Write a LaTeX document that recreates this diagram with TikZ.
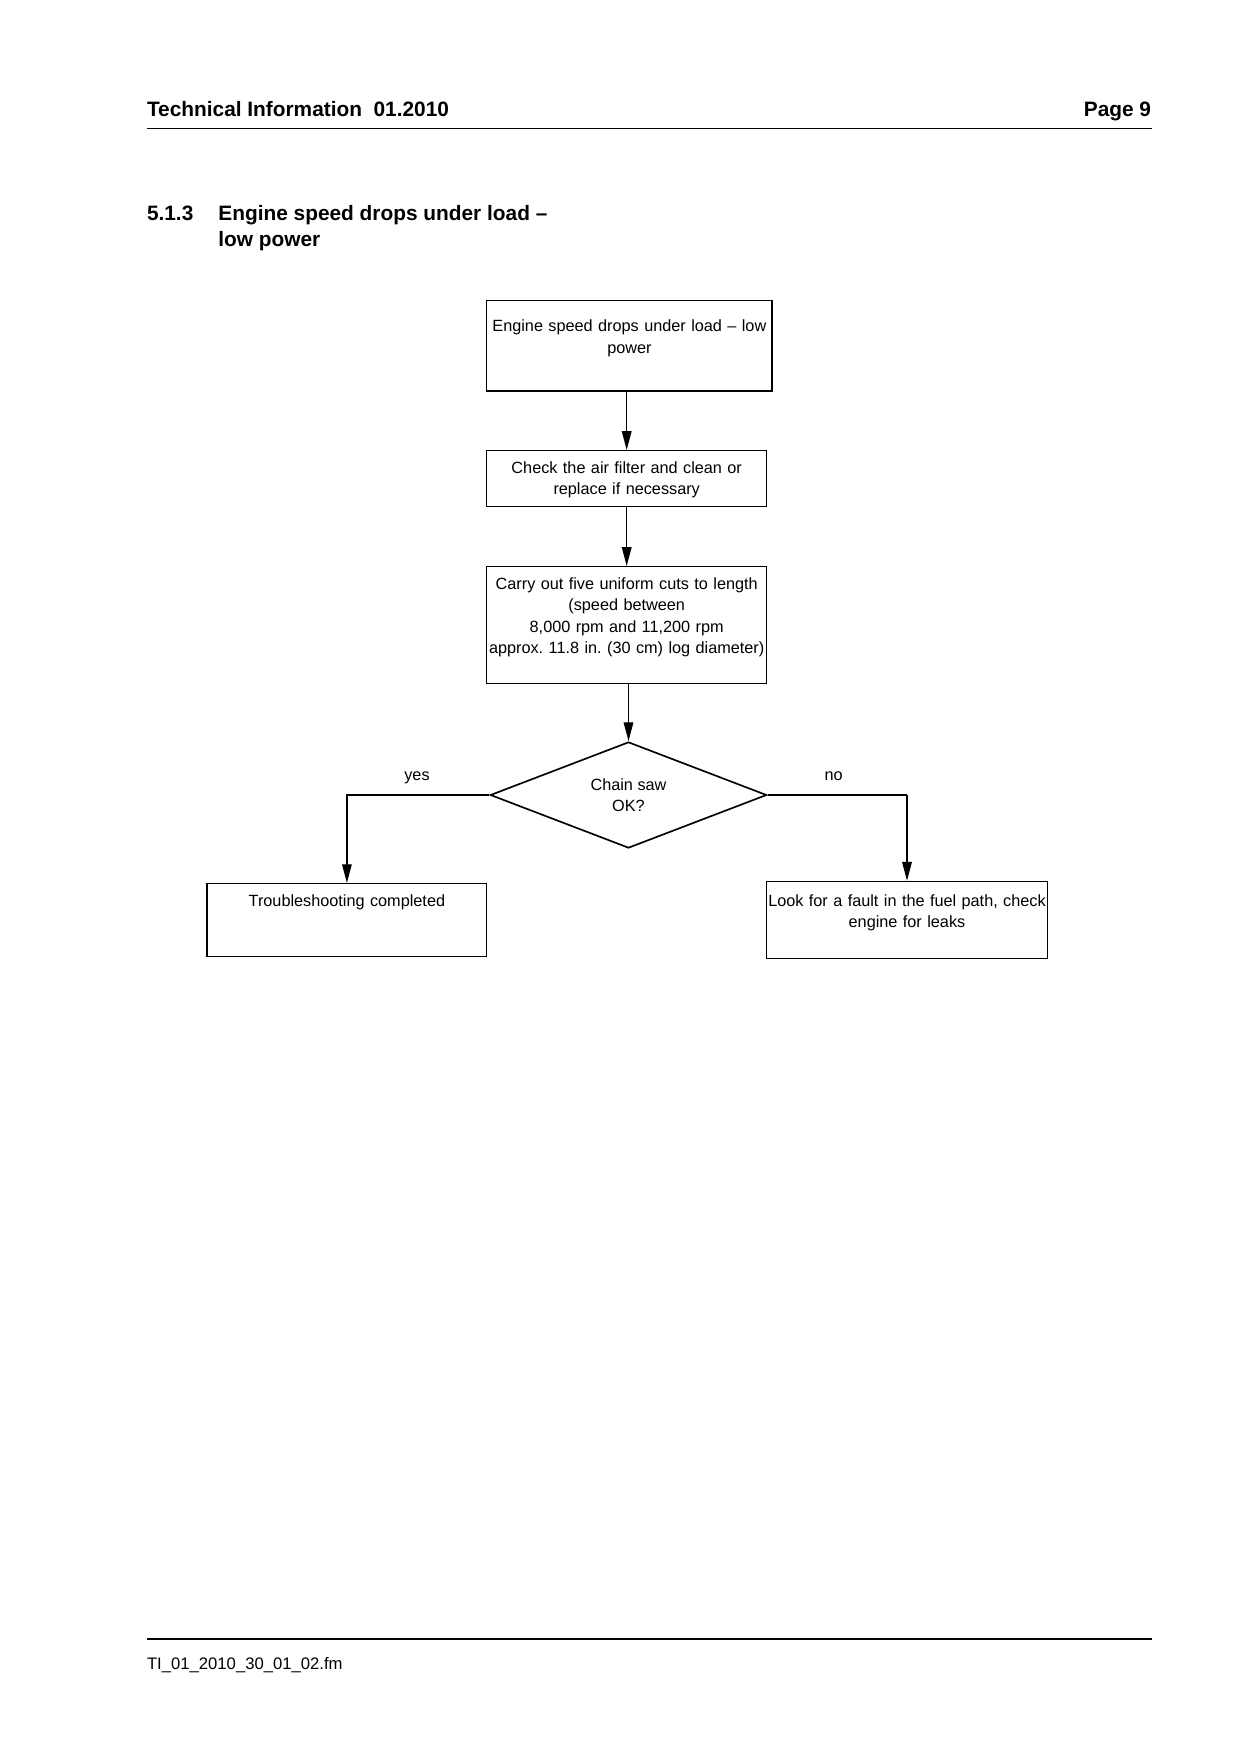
\documentclass[tikz,border=0pt]{standalone}
\usepackage{fontspec}
\setmainfont{Liberation Sans}
\usetikzlibrary{shapes.geometric,arrows.meta}

\tikzset{
	stepbox/.style={draw, line width=0.6pt, inner sep=0pt, anchor=north, align=center,
		text height=11pt, font=\fontsize{7.8}{10.2}\selectfont\frenchspacing},
	decision/.style={draw, diamond, aspect=2.6, inner sep=0pt, line width=0.8pt, align=center,
		minimum width=132.6pt, minimum height=50.9pt, font=\fontsize{7.8}{10.2}\selectfont},
	branchtext/.style={anchor=base, inner sep=0pt, font=\fontsize{7.8}{10}\selectfont},
	pagetext/.style={inner sep=0pt, font=\bfseries\fontsize{10}{12}\selectfont},
	flow/.style={->, line width=0.6pt},
	rule/.style={line width=0.6pt},
}

\begin{document}
\begin{tikzpicture}[x=0.4797pt, y=-0.4797pt, >={Triangle[length=9pt,width=4.6pt]}]
	\useasboundingbox (0,0) rectangle (1241,1755);
	\node[pagetext, anchor=base west] (head) at (146.6,116) {Technical Information\ \ 01.2010};
	\node[pagetext, anchor=base east] (page) at (1151.5,116) {Page 9};
	\draw[rule] (146.6,128.7) -- (1151.5,128.7);
	\node[pagetext, anchor=base west] (secnum) at (146.6,220.5) {5.1.3};
	\node[pagetext, anchor=base west] (sectitle) at (218,220.5) {Engine speed drops under load --};
	\node[pagetext, anchor=base west] (sectitlb) at (218,246) {low power};

	\node[stepbox, text width=136.8pt, text height=15pt, text depth=28.4pt] (start) at (629.4,300) {Engine speed drops under load -- low\\power};
	\node[stepbox, text width=134.2pt, text depth=15.8pt] (airbox) at (626.7,450) {Check the air filter and clean or\\replace if necessary};
	\node[stepbox, text width=134.2pt, text depth=44.9pt] (cutbox) at (626.7,566) {Carry out five uniform cuts to length\\(speed between\\8,000 rpm and 11,200 rpm\\approx. 11.8 in. (30 cm) log diameter)};
	\node[decision] (check) at (628.5,795) {Chain saw\\OK?};
	\node[stepbox, text width=134.2pt, text depth=23.8pt] (done) at (346.9,883) {Troubleshooting completed};
	\node[stepbox, text width=134.7pt, text height=12pt, text depth=25.1pt] (fuelbox) at (907,880.7) {Look for a fault in the fuel path, check\\engine for leaks};

	\draw[flow] (start.south -| airbox.north) -- (airbox.north);
	\draw[flow] (airbox.south) -- (cutbox.north);
	\draw[flow] (cutbox.south -| check.north) -- (check.north);
	\draw[flow] (check.west) -| (done.north);
	\coordinate (nocorner) at (check.east -| fuelbox.north);
	\draw[line width=1.2pt] (check.east) -- (nocorner);
	\draw[flow] (nocorner) -- (fuelbox.north);
	\node[branchtext] (yes) at (417,780) {yes};
	\node[branchtext] (no) at (833.6,780) {no};

	\draw[rule] (146.6,1639) -- (1151.5,1639);
	\node[anchor=base west, inner sep=0pt, font=\fontsize{8}{10}\selectfont] (footer) at (146.6,1669) {TI\_01\_2010\_30\_01\_02.fm};
\end{tikzpicture}
\end{document}
